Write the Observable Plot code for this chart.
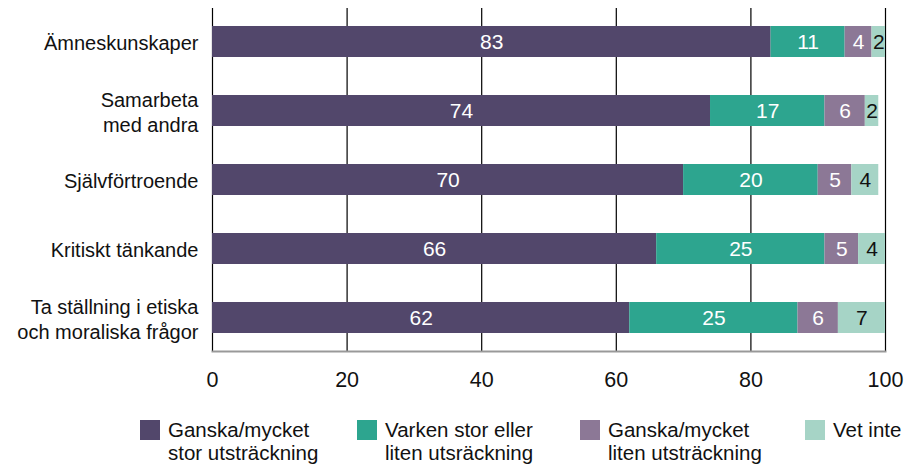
<!DOCTYPE html>
<html><head><meta charset="utf-8">
<script src="https://cdn.jsdelivr.net/npm/d3@7"></script>
<script src="https://cdn.jsdelivr.net/npm/@observablehq/plot@0.6"></script>
<style>
body{margin:0;background:#fff;font-family:"Liberation Sans",Arial,sans-serif;}
#wrap{position:relative;width:914px;height:466px;overflow:hidden;}
#legend{position:absolute;top:418px;left:0;width:914px;height:48px;font-family:"Liberation Sans",Arial,sans-serif;font-size:20.5px;color:#111;line-height:23px;}
.item{position:absolute;top:0;}
.sw{position:absolute;left:0;top:2px;width:20px;height:20px;}
.tx{position:absolute;left:28px;top:0;white-space:nowrap;}
</style></head><body>
<div id="wrap"><div id="chart"></div><div id="legend"></div></div>
<script>
const categories = ["Ämneskunskaper","Samarbeta\nmed andra","Självförtroende","Kritiskt tänkande","Ta ställning i etiska\noch moraliska frågor"];
const seriesNames = ["Ganska/mycket stor utsträckning","Varken stor eller liten utsräckning","Ganska/mycket liten utsträckning","Vet inte"];
const legendLines = [["Ganska/mycket","stor utsträckning"],["Varken stor eller","liten utsräckning"],["Ganska/mycket","liten utsträckning"],["Vet inte"]];
const colors = ["#52476b","#2da58f","#8c7896","#a6d4c6"];
const storUtstr = [83,74,70,66,62];
const varken = [11,17,20,25,25];
const litenUtstr = [4,6,5,5,6];
const vetInte = [2,2,4,4,7];
const xTicks = [0,20,40,60,80,100];

const cols = [storUtstr, varken, litenUtstr, vetInte];
const data = [];
categories.forEach((c,i)=>{ seriesNames.forEach((s,j)=>{ data.push({cat:c, series:s, value:cols[j][i], dark:j<3}); }); });

const chart = Plot.plot({
  width: 914, height: 400,
  marginLeft: 212, marginRight: 29, marginTop: 8, marginBottom: 49,
  style: {fontFamily: '"Liberation Sans",Arial,sans-serif', fontSize: "20px", color:"#111", background:"#fff"},
  x: {domain:[0,100], ticks: xTicks, label: null},
  y: {domain: categories, label: null, paddingInner: 0.55, paddingOuter: 0.25},
  color: {domain: seriesNames, range: colors},
  marks: [
    Plot.ruleX(xTicks, {stroke:"#000", strokeWidth:1.2}),
    Plot.barX(data, Plot.stackX({x:"value", y:"cat", fill:"series", z:"series", order: seriesNames})),
    Plot.frame({anchor:"bottom", stroke:"#999", strokeWidth:2}),
    Plot.text(data, Plot.stackX({x:"value", y:"cat", z:"series", order: seriesNames, text:d=>d.dark?String(d.value):"", fill:"#fff", fontSize:21})),
    Plot.text(data, Plot.stackX({x:"value", y:"cat", z:"series", order: seriesNames, text:d=>d.dark?"":String(d.value), fill:"#111", fontSize:21})),
    Plot.axisX({ticks: xTicks, tickSize:0, tickPadding: 20, fontSize:21.5, label:null}),
    Plot.axisY({tickSize:0, tickPadding: 14, fontSize:20, label:null, lineHeight:1.25})
  ]
});
document.getElementById("chart").appendChild(chart);

const lx = [140,357,580,805];
const leg = document.getElementById("legend");
legendLines.forEach((lines,i)=>{
  const it = document.createElement("div"); it.className="item"; it.style.left=lx[i]+"px";
  it.innerHTML = `<div class="sw" style="background:${colors[i]}"></div><div class="tx">${lines.join("<br>")}</div>`;
  leg.appendChild(it);
});
</script></body></html>
